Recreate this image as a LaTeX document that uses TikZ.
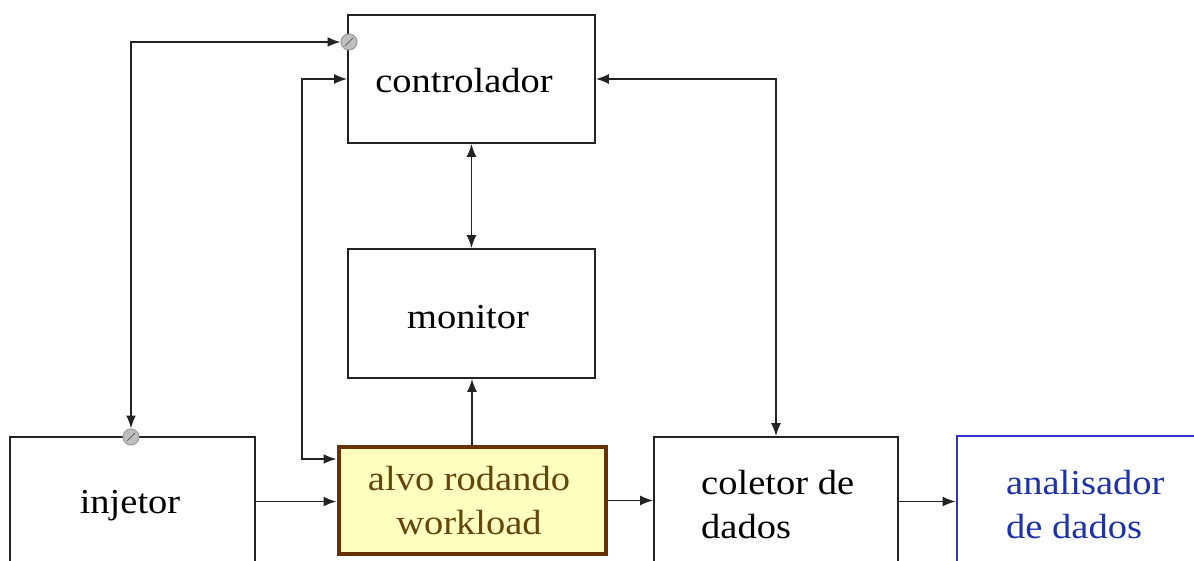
\documentclass[tikz,border=0pt]{standalone}
\usepackage{fontspec}
\setmainfont{Liberation Serif}
\usetikzlibrary{arrows.meta}
\definecolor{linegray}{RGB}{35,35,35}
\definecolor{alvofill}{RGB}{255,255,192}
\definecolor{alvoedge}{RGB}{102,51,0}
\definecolor{alvotext}{RGB}{100,70,10}
\definecolor{anaedge}{RGB}{51,51,204}
\definecolor{anatext}{RGB}{30,50,170}
\begin{document}
\begin{tikzpicture}[x=1pt,y=-1pt,
  box/.style={draw=linegray, line width=1.7pt, fill=white, inner sep=0pt},
  lbl/.style={inner sep=0pt, anchor=base, xscale=1.10, transform shape,
    font=\fontsize{35}{44}\selectfont},
  lblw/.style={lbl, anchor=base west},
  conn/.style={draw=linegray, line width=1.8pt},
  tip/.style={-{Latex[length=13pt,width=10pt]}},
  tips/.style={{Latex[length=13pt,width=10pt]}-{Latex[length=13pt,width=10pt]}},
  portmark/.style={circle, minimum size=16pt, inner sep=0pt,
    fill=gray!50, draw=gray!80, line width=1pt,
    path picture={\draw[gray!80!black, line width=1pt]
      ([shift={(-4pt,-4pt)}]path picture bounding box.center) --
      ([shift={(4pt,4pt)}]path picture bounding box.center);}}]
\useasboundingbox (0,0) rectangle (1194,561);
\clip (0,0) rectangle (1194,561);

% boxes
\node[box, minimum width=247pt, minimum height=128pt] (ctrl) at (471.5,79) {};
\node[box, minimum width=247pt, minimum height=129pt] (mon) at (471.5,313.5) {};
\node[box, draw=alvoedge, fill=alvofill, line width=4pt,
  minimum width=267pt, minimum height=107pt] (alvo) at (472,500.5) {};
\node[box, minimum width=245pt, minimum height=129pt] (inj) at (132.5,501.5) {};
\node[box, minimum width=244pt, minimum height=129pt] (col) at (776,501.5) {};
\node[box, draw=anaedge, line width=2.6pt,
  minimum width=255pt, minimum height=130pt] (ana) at (1084.5,501) {};

% box texts
\node[lbl] (ctrl-t) at (464,93) {controlador};
\node[lbl] (mon-t) at (468,329) {monitor};
\node[lbl, text=alvotext] (alvo-t1) at (469,490) {alvo rodando};
\node[lbl, text=alvotext] (alvo-t2) at (469,534) {workload};
\node[lbl] (inj-t) at (130,513) {injetor};
\node[lblw] (col-t1) at (701,494) {coletor de};
\node[lblw] (col-t2) at (701,538) {dados};
\node[lblw, text=anatext] (ana-t1) at (1006,494) {analisador};
\node[lblw, text=anatext] (ana-t2) at (1006,538) {de dados};

% ports on the injector link
\node[portmark] (pc) at (349,42) {};
\node[portmark] (pi) at (131,437) {};

% connectors
\draw[conn, tips] (pi.north) |- (pc.west);
\coordinate (lp) at (302,0);
\coordinate (ain) at ([yshift=41.5pt]alvo.west);
\draw[conn, tips] (ctrl.west) -- (ctrl.west -| lp) -- (ain -| lp) -- (ain);
\draw[conn, tips] (ctrl.east) -| (col.north);
\draw[conn, tips] (ctrl.south) -- (mon.north);
\draw[conn, tip] (alvo.north) -- (alvo.north |- mon.south);
\draw[conn, tip] (inj.east) -- (inj.east -| alvo.west);
\draw[conn, tip] (alvo.east) -- (alvo.east -| col.west);
\draw[conn, tip] (col.east) -- (col.east -| ana.west);
\end{tikzpicture}
\end{document}
